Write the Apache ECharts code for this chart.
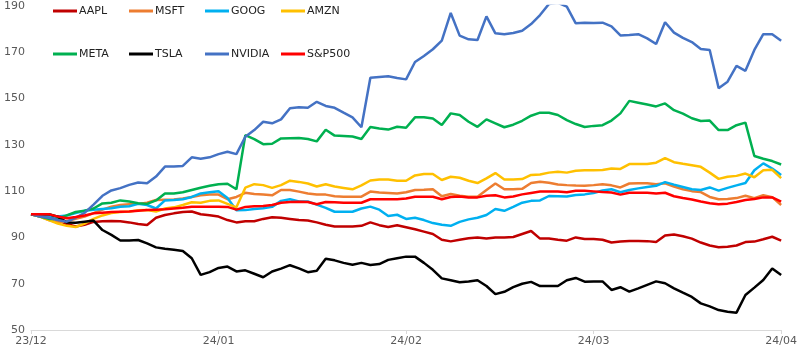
<!DOCTYPE html>
<html>
<head>
<meta charset="utf-8">
<script src="https://cdn.jsdelivr.net/npm/echarts@6/dist/echarts.min.js"></script>
<style>
  html, body { margin: 0; padding: 0; background: #fff; }
  #chart { width: 800px; height: 350px; }
</style>
</head>
<body>
<div id="chart"></div>
<script>
// tick labels, one every 21 trading days
const tickLabels = ['23/12', '24/01', '24/02', '24/03', '24/04'];

// index values, start = 100
const aapl = [100, 100, 99, 97.5, 95.8, 94.7, 95.5, 96.7, 97.0, 97.1, 97, 96.5, 95.8, 95.4, 98.5, 99.7, 100.4, 101, 101.2, 100, 99.6, 99, 97.5,
  96.5, 97, 97, 98, 98.7, 98.5, 98, 97.5, 97.3, 96.5, 95.5, 94.7, 94.7, 94.7, 95, 96.5, 95.3, 94.5, 95.3,
  94.4, 93.5, 92.5, 91.5, 89, 88.3, 89, 89.6, 90, 89.5, 90, 90, 90.2, 91.5, 92.8, 89.5, 89.5, 89, 88.6, 90, 89.3,
  89.3, 89, 87.8, 88.2, 88.5, 88.5, 88.4, 88, 90.8, 91.3, 90.5, 89.5, 87.8, 86.5, 85.8, 86, 86.5, 88, 88.2, 89.2, 90.3, 88.6];
const msft = [100, 99, 97.5, 96.5, 97, 98, 99, 100.5, 102, 103.3, 104, 104.3, 104.5, 105, 106.2, 106.3, 106.4, 106.8, 107.5, 108.2, 108.5, 108.5, 106.5,
  107.5, 109.3, 108.8, 108.5, 108.2, 110.5, 110.5, 109.8, 109, 108.6, 108.5, 107.8, 107.6, 107.6, 107.6, 109.8, 109.4, 109.2, 109,
  109.5, 110.5, 110.6, 110.8, 107.8, 108.8, 108, 107.6, 107.6, 110.5, 113.3, 110.8, 110.8, 111, 113.5, 114.1, 113.6, 112.9, 112.6, 112.4, 112.3,
  112.6, 113, 112.5, 111.6, 113.3, 113.4, 113.4, 113, 113.4, 112, 110.8, 110, 109.6, 107.5, 106.5, 106.6, 107, 108, 107, 108.2, 107.4, 104];
const goog = [100, 99.5, 99, 99, 99.5, 100.5, 101.5, 102, 102.3, 102.6, 103.3, 103.5, 104.5, 104, 102.5, 106, 106.2, 106.5, 107.5, 109, 109.5, 110, 107,
  101.7, 101.8, 102.3, 102.6, 103.2, 105.8, 106.5, 105.5, 105.5, 104.2, 102.8, 101.1, 101.1, 101.1, 102.5, 103.3, 102, 99.3, 99.8,
  98, 98.5, 97.5, 96.2, 95.5, 95, 96.7, 97.8, 98.5, 99.7, 102.3, 101.5, 103.2, 105, 105.8, 106, 107.9, 107.8, 107.7, 108.3, 108.6,
  109.2, 110.3, 110.8, 109.5, 110.5, 111.2, 111.8, 112.3, 113.9, 112.8, 111.8, 110.8, 110.5, 111.6, 110.2, 111.4, 112.5, 113.5, 119, 122, 119.8, 117];
const amzn = [100, 99, 97.5, 96, 95, 94.5, 96, 98, 99.5, 100.5, 101, 101.2, 101.7, 101.8, 101.2, 102.5, 103, 104, 105.2, 105, 105.8, 106, 104.5,
  103, 111.5, 113, 112.6, 111.4, 112.6, 114.5, 114, 113.3, 112, 113, 112, 111.4, 110.8, 112.5, 114.6, 115, 115, 114.5,
  114.5, 116.8, 117.4, 117.4, 114.8, 116.2, 115.8, 114.5, 113.5, 115.5, 117.8, 115, 115, 115.2, 117, 117.2, 118, 118.4, 118, 118.8, 119,
  119, 119.1, 119.8, 119.6, 121.7, 121.7, 121.7, 122.3, 124.3, 122.5, 121.8, 121.2, 120.5, 118, 115.3, 116.2, 116.6, 117.6, 116, 119, 119.2, 115.6];
const meta = [100, 99, 98, 98, 99.5, 101, 101.5, 102.5, 104.7, 105, 106, 105.5, 104.8, 104.5, 106, 109, 109, 109.5, 110.5, 111.5, 112.3, 113, 113.2,
  110.8, 134.2, 132.5, 130.3, 130.5, 132.8, 132.9, 133, 132.5, 131.5, 136.5, 134, 133.8, 133.6, 132.5, 137.7, 137.1, 136.6, 137.8,
  137.4, 141.9, 141.9, 141.4, 138.6, 143.6, 142.9, 140, 137.8, 141, 139.3, 137.6, 138.7, 140.4, 142.6, 143.9, 143.9, 142.9, 140.7, 139, 137.7,
  138.2, 138.5, 140.5, 143.6, 149, 148.2, 147.4, 146.6, 147.9, 145, 143.5, 141.5, 140.3, 140.5, 136.4, 136.4, 138.5, 139.6, 125.2, 124, 123, 121.5];
const tsla = [100, 100, 100, 99, 96.5, 96.3, 96.8, 97.3, 93.2, 91.1, 88.7, 88.7, 88.9, 87.4, 85.7, 85.1, 84.7, 84.1, 81, 73.8, 75, 76.8, 77.4,
  75.3, 75.8, 74.3, 72.8, 75.3, 76.5, 78, 76.6, 75, 75.6, 80.8, 80.1, 79, 78.2, 79, 78.1, 78.5, 80.3, 81,
  81.7, 81.7, 79, 76, 72.3, 71.5, 70.6, 71, 71.5, 69, 65.5, 66.5, 68.5, 70, 70.8, 69, 69, 69, 71.5, 72.5, 70.9,
  71, 71, 67.3, 68.5, 66.6, 68, 69.5, 71, 70.2, 68, 66.1, 64.3, 61.5, 60.2, 58.6, 57.9, 57.5, 65.1, 68.3, 71.6, 76.6, 73.8];
const nvda = [100, 99, 98.5, 97.5, 96.8, 98.5, 100.6, 104.2, 108, 110.3, 111.3, 112.7, 113.7, 113.4, 116.3, 120.6, 120.7, 120.9, 124.6, 124, 124.6, 126, 127,
  126, 133.5, 136.4, 140, 139.3, 141, 145.8, 146.2, 146, 148.6, 146.8, 146, 143.9, 141.9, 137.6, 159, 159.3, 159.6, 158.9,
  158.3, 165.8, 168.4, 171.3, 175, 187, 177.2, 175.6, 175.3, 185.5, 178.2, 177.8, 178.3, 179.3, 182.2, 186.1, 190.9, 191.4, 189.7, 182.5, 182.8,
  182.7, 182.8, 181.2, 177.3, 177.5, 177.8, 176, 173.6, 183, 178.5, 176.2, 174.4, 171.4, 171, 154.5, 157.3, 164.1, 162, 171, 177.8, 177.8, 175];
const spx = [100, 100, 100, 99, 98.3, 98.8, 99.5, 100.4, 100.7, 101, 101.1, 101.2, 101.5, 101.8, 102, 102.2, 102.5, 102.8, 103.3, 103.3, 103.3, 103.3, 103.2,
  102, 103.2, 103.5, 103.6, 104, 105, 105.3, 105.4, 105.3, 104.3, 105.3, 105.2, 105, 105, 105, 106.5, 106.5, 106.5, 106.5,
  106.8, 107.6, 107.6, 107.6, 106.5, 107.5, 107.7, 107.3, 107.3, 108, 108.2, 107.3, 107.7, 108.6, 109.2, 109.8, 109.8, 109.8, 109.5, 110.2, 110.2,
  109.9, 109.6, 109.4, 108.5, 109.3, 109.3, 109.3, 109, 109.3, 107.8, 107, 106.4, 105.5, 104.8, 104.3, 104.6, 105.3, 106.2, 106.6, 107.3, 107.3, 105.5];

const seriesNames = ['AAPL', 'MSFT', 'GOOG', 'AMZN', 'META', 'TSLA', 'NVIDIA', 'S&P500'];
const seriesData = [aapl, msft, goog, amzn, meta, tsla, nvda, spx];
const seriesColors = ['#C00000', '#ED7D31', '#00B0F0', '#FFC000', '#00B050', '#000000', '#4472C4', '#FF0000'];

const categories = aapl.map((_, i) => String(i));

const font = 'DejaVu Sans, Verdana, sans-serif';

// legend: 4 columns x 2 rows, one legend per column
const legendLefts = [53, 129, 205, 281];
const legends = legendLefts.map((left, col) => ({
  left: left,
  top: 4,
  padding: 0,
  orient: 'vertical',
  icon: 'rect',
  itemWidth: 24,
  itemHeight: 3,
  itemGap: 29,
  data: [seriesNames[col], seriesNames[col + 4]],
  textStyle: { fontFamily: font, fontSize: 11, color: '#222', lineHeight: 14, padding: [0, 0, 0, -3] },
  selectedMode: false
}));

const chart = echarts.init(document.getElementById('chart'));
chart.setOption({
  animation: false,
  backgroundColor: '#fff',
  legend: legends,
  grid: { left: 31, right: 16, top: 6, bottom: 20, containLabel: false },
  xAxis: {
    type: 'category',
    data: categories,
    boundaryGap: false,
    axisLine: { lineStyle: { color: '#d9d9d9', width: 1 } },
    axisTick: { show: true, interval: 20, length: 4, lineStyle: { color: '#d9d9d9' } },
    axisLabel: {
      interval: 20,
      margin: 6,
      fontFamily: font,
      fontSize: 11,
      color: '#595959',
      formatter: (v, i) => tickLabels[Math.round(i / 21)] || ''
    },
    splitLine: { show: false }
  },
  yAxis: {
    type: 'value',
    min: 50,
    max: 190,
    interval: 20,
    axisLine: { show: false },
    axisTick: { show: false },
    splitLine: { show: false },
    axisLabel: { margin: 6, fontFamily: font, fontSize: 11, color: '#595959' }
  },
  series: seriesNames.map((name, k) => ({
    name: name,
    type: 'line',
    data: seriesData[k],
    showSymbol: false,
    symbol: 'none',
    color: seriesColors[k],
    lineStyle: { width: 2.5, color: seriesColors[k] },
    emphasis: { disabled: true }
  }))
});
</script>
</body>
</html>
